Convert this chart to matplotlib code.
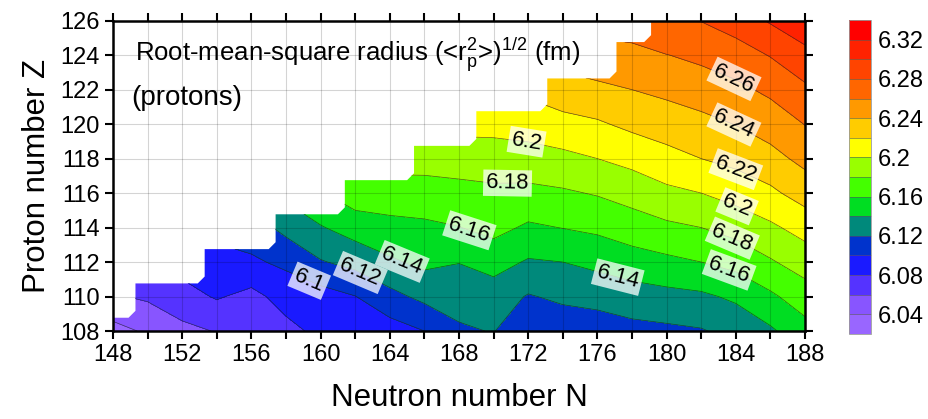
import numpy as np
import matplotlib
matplotlib.use('Agg')
import matplotlib.pyplot as plt
from matplotlib.patches import Polygon
from matplotlib.ticker import MultipleLocator, FuncFormatter

# ---------------- data ----------------
neutron_N = [148, 150, 152, 154, 156, 158, 160, 162, 164, 166, 168,
             170, 172, 174, 176, 178, 180, 182, 184, 186, 188]
proton_Z = [108, 110, 112, 114, 116, 118, 120, 122, 124, 126]

# rms proton radius (fm); one row per N, values along Z = 108 ... 126
radius_by_N = [
    [6.033, 6.058, 6.072, 6.085, 6.100, 6.115, 6.130, 6.145, 6.160, 6.175],   # 148
    [6.043, 6.063, 6.078, 6.090, 6.105, 6.120, 6.135, 6.150, 6.165, 6.180],   # 150
    [6.055, 6.072, 6.088, 6.100, 6.112, 6.127, 6.142, 6.157, 6.172, 6.187],   # 152
    [6.061, 6.082, 6.094, 6.105, 6.118, 6.133, 6.148, 6.163, 6.178, 6.193],   # 154
    [6.064, 6.074, 6.097, 6.110, 6.125, 6.140, 6.155, 6.170, 6.185, 6.200],   # 156
    [6.074, 6.088, 6.104, 6.126, 6.145, 6.160, 6.175, 6.190, 6.205, 6.220],   # 158
    [6.085, 6.0915, 6.1185, 6.1385, 6.1585, 6.175, 6.190, 6.205, 6.220, 6.235],  # 160
    [6.092, 6.0995, 6.126, 6.149, 6.171, 6.188, 6.200, 6.212, 6.225, 6.240],  # 162
    [6.091, 6.114, 6.137, 6.154, 6.171, 6.188, 6.200, 6.214, 6.228, 6.243],   # 164
    [6.100, 6.125, 6.1445, 6.156, 6.172, 6.1875, 6.202, 6.217, 6.232, 6.247],  # 166
    [6.117, 6.1285, 6.1405, 6.1595, 6.1735, 6.1895, 6.206, 6.221, 6.236, 6.251],  # 168
    [6.121, 6.130, 6.1475, 6.166, 6.176, 6.190, 6.2065, 6.222, 6.238, 6.253],  # 170
    [6.0997, 6.1185, 6.138, 6.157, 6.175, 6.192, 6.2085, 6.224, 6.240, 6.256],  # 172
    [6.107, 6.124, 6.140, 6.1605, 6.1775, 6.195, 6.2135, 6.2315, 6.248, 6.262],  # 174
    [6.109, 6.127, 6.145, 6.164, 6.1815, 6.200, 6.2175, 6.2355, 6.253, 6.267],  # 176
    [6.114, 6.131, 6.151, 6.1705, 6.1875, 6.206, 6.2245, 6.240, 6.2545, 6.270],  # 178
    [6.116, 6.134, 6.1555, 6.176, 6.1955, 6.2135, 6.2295, 6.2445, 6.2595, 6.280],  # 180
    [6.1185, 6.1365, 6.160, 6.180, 6.200, 6.220, 6.2345, 6.2495, 6.2645, 6.2805],  # 182
    [6.126, 6.1435, 6.1665, 6.187, 6.2075, 6.2255, 6.2405, 6.2555, 6.271, 6.289],  # 184
    [6.137, 6.1565, 6.178, 6.1965, 6.216, 6.2335, 6.249, 6.264, 6.281, 6.302],  # 186
    [6.1525, 6.1705, 6.189, 6.2075, 6.2285, 6.2455, 6.2605, 6.2765, 6.2935, 6.3155],  # 188
]

# upper edge of the computed region (staircase): step start N and max Z after the step
edge_N = [148.0, 149.3, 153.3, 157.4, 161.4, 165.4, 169.0, 173.1, 177.1, 179.1]
edge_Zmax = [108.77, 110.76, 112.75, 114.77, 116.75, 118.74, 120.75, 122.65, 124.76, 126.0]
edge_cut = 0.4

levels = [6.02, 6.04, 6.06, 6.08, 6.10, 6.12, 6.14, 6.16, 6.18, 6.20,
          6.22, 6.24, 6.26, 6.28, 6.30, 6.32, 6.34]
level_colors = ['#9966ff', '#8855ff', '#5533ff', '#1a1aff', '#0033cc', '#00897b',
                '#00dd22', '#44ff00', '#99ff00', '#ffff00', '#ffcc00', '#ff9900',
                '#ff6600', '#ff4400', '#ff2200', '#ff0000']
cbar_ticks = [6.04, 6.08, 6.12, 6.16, 6.20, 6.24, 6.28, 6.32]

label_pos = [(159.4, 111.05), (162.3, 111.4), (164.7, 112.0), (168.6, 113.85),
             (170.8, 117.0), (171.9, 118.95), (177.1, 110.85), (183.8, 122.4),
             (183.8, 119.76), (184.0, 117.4), (184.1, 115.3), (183.8, 113.4),
             (183.6, 111.5)]

# ---------------- figure ----------------
plt.rcParams['font.family'] = ['Liberation Sans', 'DejaVu Sans']
plt.rcParams['mathtext.fontset'] = 'custom'
plt.rcParams['mathtext.rm'] = 'Liberation Sans'
plt.rcParams['mathtext.it'] = 'Liberation Sans:italic'

fig = plt.figure(figsize=(9.29, 4.19), dpi=100)
ax = fig.add_axes([0.1216, 0.21, 0.745, 0.7406])

NN, ZZ = np.meshgrid(neutron_N, proton_Z)
R = np.array(radius_by_N).T

cs = ax.contourf(NN, ZZ, R, levels=levels, colors=level_colors)
cl = ax.contour(NN, ZZ, R, levels=levels[1:-1], colors='#202020',
                linewidths=0.5, alpha=0.7)

# clip to computed region
verts = [(edge_N[0], proton_Z[0]), (edge_N[0], edge_Zmax[0])]
for i in range(1, len(edge_N)):
    verts.append((edge_N[i] - edge_cut, edge_Zmax[i - 1]))
    verts.append((edge_N[i], edge_Zmax[i - 1] + edge_cut))
    verts.append((edge_N[i], edge_Zmax[i]))
verts.append((neutron_N[-1], edge_Zmax[-1]))
verts.append((neutron_N[-1], proton_Z[0]))
clip = Polygon(verts, closed=True, transform=ax.transData,
               facecolor='none', edgecolor='none')
ax.add_patch(clip)
cs.set_clip_path(clip)
cl.set_clip_path(clip)

labels = ax.clabel(cl, manual=label_pos, fmt='%g', fontsize=16, inline=False,
                   colors='black')
for t in labels:
    t.set_alpha(1.0)
    t.set_color('black')
    t.set_bbox(dict(boxstyle='square,pad=0.12', fc='white', ec='none', alpha=0.75))

ax.set_xlim(148, 188)
ax.set_ylim(108, 126)
ax.xaxis.set_major_locator(MultipleLocator(4))
ax.xaxis.set_minor_locator(MultipleLocator(2))
ax.yaxis.set_major_locator(MultipleLocator(2))
ax.grid(which='both', color='black', alpha=0.17, linewidth=0.8)
ax.tick_params(which='both', direction='out', length=6, width=1.5,
               top=True, right=True, labelsize=17)
for s in ax.spines.values():
    s.set_linewidth(1.8)
for lab in ax.get_xticklabels() + ax.get_yticklabels():
    lab.set_family(['Liberation Sans Narrow', 'Liberation Sans'])

ax.set_xlabel('Neutron number N', fontsize=22.5, labelpad=12)
ax.set_ylabel('Proton number Z', fontsize=22.5, labelpad=6)

ax.text(149.27, 124.0,
        r'Root-mean-square radius (<r$_{\mathrm{p}}^{\mathrm{2}}$>)$^{\mathrm{1/2}}$ (fm)',
        fontsize=18.5, va='center', ha='left')
ax.text(149.08, 121.5, '(protons)', fontsize=20, va='center', ha='left')

cax = fig.add_axes([0.914, 0.203, 0.0237, 0.749])
cb = fig.colorbar(cs, cax=cax, ticks=cbar_ticks, drawedges=True,
                  format=FuncFormatter(lambda v, p: '%g' % round(v, 2)))
cb.ax.tick_params(length=0, labelsize=17, pad=5)
cb.outline.set_edgecolor('#999999')
cb.outline.set_linewidth(0.6)
cb.dividers.set_color('#555555')
cb.dividers.set_linewidth(0.4)

fig.savefig('out.png', dpi=100)
